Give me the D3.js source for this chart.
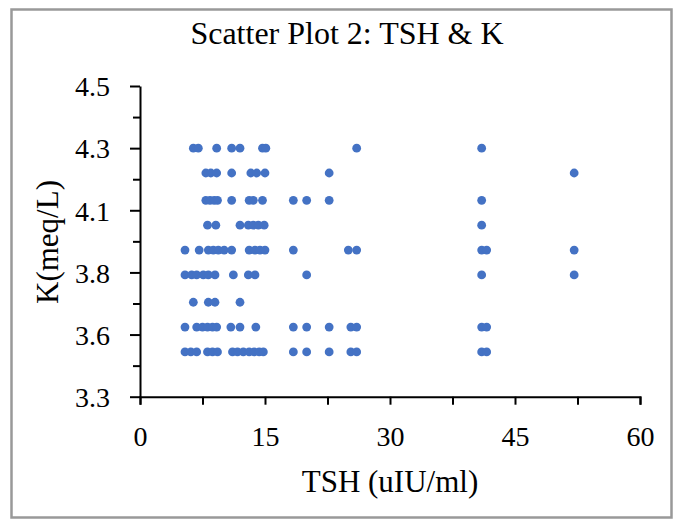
<!DOCTYPE html>
<html>
<head>
<meta charset="utf-8">
<script src="https://cdn.jsdelivr.net/npm/d3@7"></script>
<style>
  body { margin: 0; background: #fff; }
  text { font-family: "Liberation Serif", "Times New Roman", serif; fill: #000; }
</style>
</head>
<body>
<div id="chart"></div>
<script>
// K rows, with the TSH values for each row
const kRows = [4.30, 4.20, 4.09, 3.99, 3.89, 3.79, 3.68, 3.58, 3.48];
const tshByRow = [
  [6.4, 7.0, 9.2, 11.0, 12.0, 14.7, 15.1, 26.0, 41.0],
  [7.9, 8.5, 9.2, 11.0, 13.3, 14.0, 15.0, 22.7, 52.1],
  [7.9, 8.4, 8.9, 9.3, 11.0, 13.1, 13.6, 14.7, 18.4, 20.0, 22.7, 41.0],
  [8.1, 9.1, 12.0, 13.0, 13.6, 14.2, 14.9, 41.0],
  [5.4, 7.1, 8.2, 8.8, 9.4, 10.1, 11.0, 13.1, 13.8, 14.4, 15.0, 18.4, 25.0, 26.0, 41.0, 41.6, 52.1],
  [5.4, 6.2, 6.8, 7.6, 8.2, 9.0, 11.2, 13.0, 13.8, 20.0, 41.0, 52.1],
  [6.4, 8.2, 9.0, 12.0],
  [5.4, 6.8, 7.5, 8.1, 8.7, 9.2, 10.9, 12.0, 13.9, 18.4, 20.0, 22.7, 25.3, 26.0, 41.0, 41.6],
  [5.4, 6.1, 6.8, 8.1, 8.7, 9.3, 11.1, 11.7, 12.4, 13.1, 13.7, 14.3, 14.8, 18.4, 20.0, 22.7, 25.3, 26.0, 41.0, 41.6]
];

const xTicks = [0, 15, 30, 45, 60];
const yTickLabels = ["3.3", "3.6", "3.8", "4.1", "4.3", "4.5"];

const points = [];
kRows.forEach((k, i) => tshByRow[i].forEach(t => points.push({ tsh: t, k: k })));

const width = 678, height = 521;

const svg = d3.select('#chart')
  .append('svg')
  .attr('width', width)
  .attr('height', height);

// outer frame
svg.append('rect')
  .attr('x', 11.5).attr('y', 9.5)
  .attr('width', 660).attr('height', 508)
  .attr('fill', 'none')
  .attr('stroke', '#999')
  .attr('stroke-width', 2.5);

const x = d3.scaleLinear()
  .domain([0, 60])
  .range([140, 640]);

const y = d3.scaleLinear()
  .domain([3.3, 4.55])
  .range([396.7, 86]);

// title
svg.append('text')
  .attr('x', 347)
  .attr('y', 44)
  .attr('text-anchor', 'middle')
  .attr('font-size', '32px')
  .text('Scatter Plot 2: TSH & K');

// points
svg.append('g')
  .selectAll('circle')
  .data(points)
  .join('circle')
  .attr('cx', d => x(d.tsh))
  .attr('cy', d => y(d.k))
  .attr('r', 4.4)
  .attr('fill', '#4472C4');

// y axis: minor ticks every 0.125, labelled every 0.25
const yAll = d3.range(11).map(i => 3.3 + i * 0.125);
function yAxis(g) {
  g.attr('transform', 'translate(140,0)')
    .call(d3.axisLeft(y).tickValues(yAll).tickSize(0).tickFormat(''));
  g.select('.domain').attr('stroke', '#000').attr('stroke-width', 2);
  g.selectAll('.tick line')
    .attr('x2', (d, i) => i % 2 === 0 ? -10 : -7)
    .attr('stroke', '#000').attr('stroke-width', 2);
  g.selectAll('.tick text')
    .attr('x', -30)
    .attr('dy', '0.35em')
    .attr('font-size', '28px')
    .attr('font-family', '"Liberation Serif", serif')
    .text((d, i) => i % 2 === 0 ? yTickLabels[i / 2] : '');
}

// x axis: minor ticks every 7.5
const xAll = d3.range(9).map(i => i * 7.5);
function xAxis(g) {
  g.attr('transform', 'translate(0,396.7)')
    .call(d3.axisBottom(x).tickValues(xAll).tickSize(8).tickFormat(''));
  g.select('.domain').attr('stroke', '#000').attr('stroke-width', 2);
  g.selectAll('.tick line').attr('stroke', '#000').attr('stroke-width', 2);
  g.selectAll('.tick text')
    .attr('y', 29)
    .attr('dy', '0.71em')
    .attr('font-size', '28px')
    .attr('font-family', '"Liberation Serif", serif')
    .text(d => xTicks.includes(d) ? d : '');
}

svg.append('g').call(xAxis);
svg.append('g').call(yAxis);
svg.selectAll('.tick text').attr('fill', '#000');

// axis titles
svg.append('text')
  .attr('x', 390)
  .attr('y', 492)
  .attr('text-anchor', 'middle')
  .attr('font-size', '31px')
  .text('TSH (uIU/ml)');

svg.append('text')
  .attr('transform', 'translate(58,242) rotate(-90)')
  .attr('text-anchor', 'middle')
  .attr('font-size', '31px')
  .text('K(meq/L)');
</script>
</body>
</html>
